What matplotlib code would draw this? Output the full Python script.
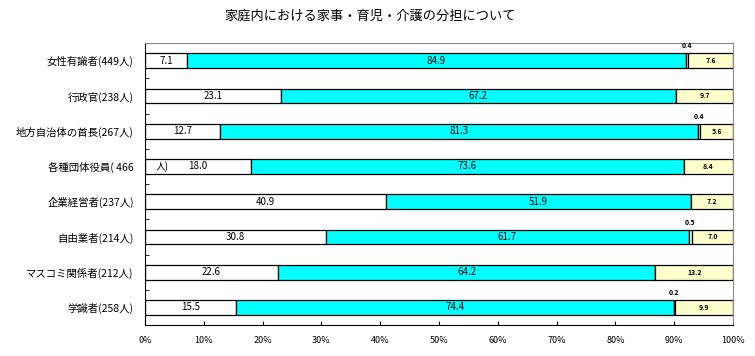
import matplotlib.pyplot as plt
import numpy as np

plt.rcParams['font.family'] = ['Noto Sans CJK JP', 'DejaVu Sans']

categorias = ['女性有識者(449人)', '行政官(238人)', '地方自治体の首長(267人)', '各種団体役員( 466',
              '企業経営者(237人)', '自由業者(214人)', 'マスコミ関係者(212人)', '学識者(258人)']
seg1 = [7.1, 23.1, 12.7, 18.0, 40.9, 30.8, 22.6, 15.5]
seg2 = [84.9, 67.2, 81.3, 73.6, 51.9, 61.7, 64.2, 74.4]
seg3 = [0.4, 0.0, 0.4, 0.0, 0.0, 0.5, 0.0, 0.2]
seg4 = [7.6, 9.7, 5.6, 8.4, 7.2, 7.0, 13.2, 9.9]
colores = ['white', '#00ffff', 'white', '#ffffcc']

fig = plt.figure(figsize=(7.55, 3.56), dpi=100)
ax = fig.add_axes([0.192, 0.087, 0.779, 0.792])
fig.text(0.49, 0.955, '家庭内における家事・育児・介護の分担について', ha='center', va='center', fontsize=9.5)

y = np.arange(len(categorias))
h = 0.42
izq = np.zeros(len(categorias))
for serie, col in zip([seg1, seg2, seg3, seg4], colores):
    serie = np.array(serie)
    ax.barh(y, serie, left=izq, height=h, color=col, edgecolor='black', linewidth=0.9)
    izq = izq + serie

# etiquetas de valores
for i in range(len(categorias)):
    ax.text(seg1[i] / 2, i, f'{seg1[i]:.1f}', ha='center', va='center', fontsize=7)
    ax.text(seg1[i] + seg2[i] / 2, i, f'{seg2[i]:.1f}', ha='center', va='center', fontsize=7)
    x3 = seg1[i] + seg2[i] + seg3[i] / 2
    if seg3[i] > 0:
        ax.text(x3, i - 0.42, f'{seg3[i]:.1f}', ha='center', va='center', fontsize=5, fontweight='bold')
    ax.text(100 - seg4[i] / 2, i, f'{seg4[i]:.1f}', ha='center', va='center', fontsize=5, fontweight='bold')

ax.text(3.0, 3, '人)', ha='center', va='center', fontsize=7)

ax.set_xlim(0, 100)
ax.set_ylim(len(categorias) - 0.5, -0.5)
ax.set_xticks(np.arange(0, 101, 10))
ax.set_xticklabels([f'{v}%' for v in range(0, 101, 10)], fontsize=6.5)
ax.set_yticks(y)
ax.set_yticklabels(categorias, fontsize=7.5)
ax.set_yticks(np.arange(len(categorias)) + 0.5, minor=True)
ax.tick_params(axis='y', which='major', length=0, pad=8)
ax.tick_params(axis='y', which='minor', direction='in', length=3)
ax.tick_params(axis='x', direction='in', length=3, pad=8)
ax.spines['top'].set_color('#888888')
ax.spines['right'].set_color('#888888')

fig.savefig('out.png', dpi=100)
